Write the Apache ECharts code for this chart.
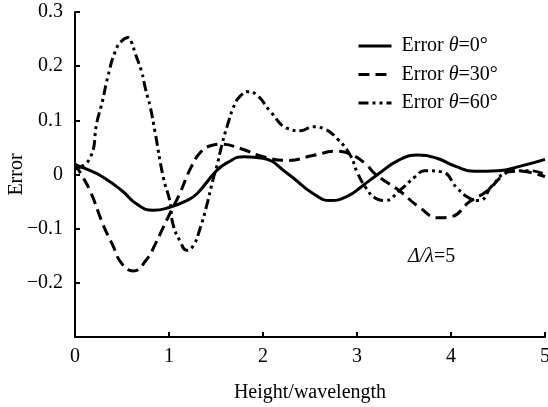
<!DOCTYPE html>
<html>
<head>
<meta charset="utf-8">
<script src="https://cdn.jsdelivr.net/npm/echarts@6/dist/echarts.min.js"></script>
<style>html,body{margin:0;padding:0;background:#fff;}#c{width:548px;height:407px;}</style>
</head>
<body>
<div id="c"></div>
<script>
// Series names
const names = ['Error θ=0°', 'Error θ=30°', 'Error θ=60°'];
// θ=0°
const h0 = [0, 0.15, 0.3, 0.5, 0.66, 0.83, 1.0, 1.19, 1.3, 1.5, 1.62, 1.8, 2.0, 2.26, 2.54, 2.72, 2.9, 3.05, 3.22, 3.45, 3.65, 3.85, 4.05, 4.25, 4.5, 4.75, 5.0];
const e0 = [0.018, 0.008, -0.005, -0.03, -0.055, -0.066, -0.061, -0.048, -0.035, 0.006, 0.022, 0.033, 0.03, 0.002, -0.036, -0.048, -0.04, -0.022, 0, 0.027, 0.036, 0.03, 0.015, 0.006, 0.007, 0.016, 0.028];
// θ=30°
const h30 = [0, 0.05, 0.16, 0.3, 0.4, 0.5, 0.62, 0.77, 0.85, 0.94, 1.01, 1.12, 1.22, 1.33, 1.44, 1.56, 1.76, 2.0, 2.26, 2.53, 2.79, 2.96, 3.1, 3.2, 3.45, 3.66, 3.87, 4.0, 4.2, 4.38, 4.55, 4.66, 4.81, 5.0];
const e30 = [0.02, 0.005, -0.03, -0.093, -0.13, -0.165, -0.178, -0.155, -0.13, -0.097, -0.072, -0.033, 0.008, 0.04, 0.053, 0.056, 0.048, 0.033, 0.026, 0.035, 0.043, 0.035, 0.018, 0.0, -0.03, -0.06, -0.08, -0.078, -0.05, -0.031, -0.002, 0.007, 0.005, -0.004];
// θ=60°
const h60 = [0, 0.16, 0.234, 0.29, 0.35, 0.43, 0.5, 0.564, 0.6, 0.64, 0.71, 0.75, 0.8, 0.85, 0.94, 1.01, 1.04, 1.12, 1.19, 1.26, 1.33, 1.4, 1.47, 1.51, 1.56, 1.62, 1.7, 1.76, 1.84, 1.94, 2.08, 2.26, 2.4, 2.53, 2.64, 2.79, 2.93, 3.0, 3.1, 3.2, 3.3, 3.45, 3.62, 3.72, 3.9, 4.07, 4.2, 4.3, 4.44, 4.62, 4.84, 5.0];
const e60 = [0.01, 0.03, 0.097, 0.134, 0.181, 0.228, 0.247, 0.253, 0.245, 0.224, 0.189, 0.158, 0.125, 0.08, -0.006, -0.05, -0.09, -0.124, -0.14, -0.131, -0.1, -0.058, -0.008, 0.016, 0.053, 0.09, 0.13, 0.145, 0.153, 0.146, 0.116, 0.085, 0.081, 0.088, 0.085, 0.066, 0.035, 0.005, -0.026, -0.044, -0.048, -0.03, -0.004, 0.007, 0.005, -0.026, -0.044, -0.048, -0.02, 0.005, 0.007, 0.0];
// Axis ticks
const xTicks = [0, 1, 2, 3, 4, 5];
const yMin = -0.3, yMax = 0.3, yStep = 0.1;

const zip = (a, b) => a.map((v, i) => [v, b[i]]);
const font = '"Liberation Serif", "Times New Roman", serif';

const chart = echarts.init(document.getElementById('c'), null, {renderer: 'canvas'});
const lineTypes = ['solid', [11, 6], [10, 4, 3, 4, 3, 4]];
const datas = [zip(h0, e0), zip(h30, e30), zip(h60, e60)];

chart.setOption({
  backgroundColor: '#fff',
  animation: false,
  grid: {left: 75, right: 3, top: 12, bottom: 70, containLabel: false, outerBoundsMode: 'none'},
  legend: {
    orient: 'vertical', left: 352, top: 31,
    itemWidth: 33, itemHeight: 20, itemGap: 8.5,
    data: names,
    itemStyle: {opacity: 0},
    lineStyle: {width: 3},
    formatter: n => {
      const p = n.split('θ');
      return '{n|' + p[0] + '}{i|θ}{n|' + p[1] + '}';
    },
    textStyle: {
      fontFamily: font, fontSize: 20, color: '#000', padding: [0, 0, 0, 5],
      rich: {
        n: {fontFamily: font, fontSize: 20, color: '#000'},
        i: {fontFamily: font, fontSize: 20, color: '#000', fontStyle: 'italic'}
      }
    }
  },
  xAxis: {
    type: 'value', min: xTicks[0], max: xTicks[xTicks.length - 1], interval: 1,
    name: 'Height/wavelength', nameLocation: 'middle', nameGap: 46, nameMoveOverlap: false,
    nameTextStyle: {fontFamily: font, fontSize: 20, color: '#000'},
    axisLine: {onZero: false, lineStyle: {color: '#000', width: 2}},
    axisTick: {inside: true, length: 5, lineStyle: {color: '#000', width: 2}},
    axisLabel: {fontFamily: font, fontSize: 20, color: '#000', margin: 10},
    splitLine: {show: false}
  },
  yAxis: {
    type: 'value', min: yMin, max: yMax, interval: yStep,
    name: 'Error', nameLocation: 'middle', nameGap: 48, nameMoveOverlap: false,
    nameTextStyle: {fontFamily: font, fontSize: 20, color: '#000'},
    axisLine: {onZero: false, lineStyle: {color: '#000', width: 2}},
    axisTick: {inside: true, length: 5, lineStyle: {color: '#000', width: 2}},
    axisLabel: {
      fontFamily: font, fontSize: 20, color: '#000', margin: 12,
      formatter: v => {
        const r = Math.round(v * 10) / 10;
        if (r <= -0.3) return '';
        if (r === 0) return '0';
        return (r < 0 ? '\u2212' : '') + Math.abs(r).toFixed(1);
      }
    },
    splitLine: {show: false}
  },
  series: names.map((n, i) => ({
    name: n, type: 'line', data: datas[i], smooth: true, symbol: 'none',
    lineStyle: {color: '#000', width: 3, type: lineTypes[i]},
    itemStyle: {color: '#000'}
  })),
  graphic: [{
    type: 'text', left: 408, top: 247,
    style: {
      text: '{i|Δ/λ}{n|=5}',
      rich: {
        i: {fontFamily: font, fontSize: 20, fontStyle: 'italic', fill: '#000'},
        n: {fontFamily: font, fontSize: 20, fill: '#000'}
      }
    }
  }]
});
</script>
</body>
</html>
